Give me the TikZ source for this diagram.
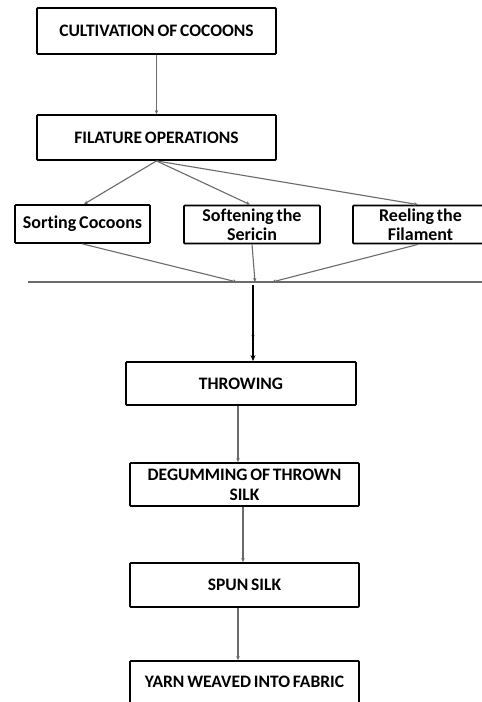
\documentclass[tikz,border=0pt]{standalone}
\usepackage{fontspec}
\setmainfont{Carlito}[Ligatures=NoCommon,WordSpace=0.7]
\usetikzlibrary{arrows.meta}
\begin{document}
\begin{tikzpicture}[x=1pt,y=-1pt,
  box/.style={draw=black,line width=1.8pt,rounded corners=0.8pt,inner sep=0pt,align=center,font=\bfseries\fontsize{17.5}{20}\selectfont},
  sbox/.style={box,font=\bfseries\fontsize{18}{19}\selectfont},
  conn/.style={draw=black!58,line width=1.1pt,-{Stealth[length=4pt,width=3.5pt]}},
  bold/.style={draw=black,line width=2pt,-{Stealth[length=6pt,width=5pt]}}]
\useasboundingbox[fill=white] (0,0) rectangle (482,702);
\node[box,minimum width=239pt,minimum height=46pt] (cult) at (156.5,31) {CULTIVATION OF COCOONS};
\node[box,minimum width=239pt,minimum height=45pt] (fil) at (156.5,137.5) {FILATURE OPERATIONS};
\node[sbox,minimum width=135pt,minimum height=38pt] (sort) at (82.5,224) {Sorting Cocoons};
\node[sbox,minimum width=136pt,minimum height=38pt] (soft) at (252,224.5) {Softening the\\Sericin};
\node[sbox,minimum width=135pt,minimum height=38pt] (reel) at (420.5,224.5) {Reeling the\\Filament};
\node[box,minimum width=230pt,minimum height=43pt] (thr) at (241,383.5) {THROWING};
\node[box,minimum width=229pt,minimum height=43pt] (deg) at (244.5,484.5) {DEGUMMING OF THROWN\\SILK};
\node[box,minimum width=229pt,minimum height=44pt] (spun) at (244.5,585) {SPUN SILK};
\node[box,minimum width=229pt,minimum height=42pt] (yarn) at (244.5,682) {YARN WEAVED INTO FABRIC};
\coordinate (h1) at (28,282);
\coordinate (h2) at (482,282);
\coordinate (m1) at (237,282);
\coordinate (m2) at (255,282);
\coordinate (m3) at (272,282);
\coordinate (j) at (253,285);
\coordinate (jm) at (253,339);
\coordinate (fa) at (84,0);
\coordinate (fb) at (250,0);
\coordinate (fc) at (418,0);
\coordinate (x1) at (238,0);
\coordinate (x2) at (243,0);
\draw[draw=black!58,line width=1.1pt] (h1) -- (h2);
\draw[conn] (cult.south) -- (fil.south |- fil.north);
\draw[conn] (fil.south) -- (fa |- sort.north);
\draw[conn] (fil.south) -- (fb |- soft.north);
\draw[conn] (fil.south) -- (fc |- reel.north);
\draw[conn] (sort.south) -- (m1);
\draw[conn] (soft.south) -- (m2);
\draw[conn] (fc |- reel.south) -- (m3);
\draw[conn] (j) -- (jm);
\draw[bold] (j) -- (j |- thr.north);
\draw[conn] (x1 |- thr.south) -- (x1 |- deg.north);
\draw[conn] (x2 |- deg.south) -- (x2 |- spun.north);
\draw[conn] (x1 |- spun.south) -- (x1 |- yarn.north);
\end{tikzpicture}
\end{document}
